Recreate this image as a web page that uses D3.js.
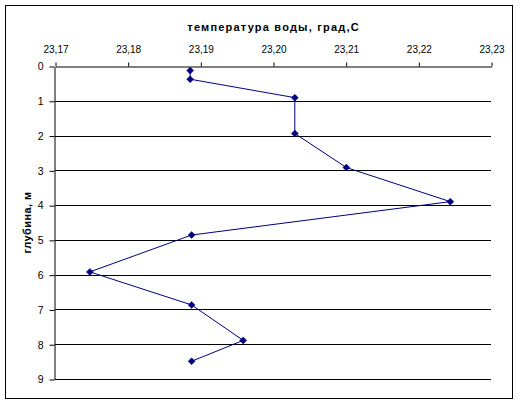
<!DOCTYPE html>
<html>
<head>
<meta charset="utf-8">
<script src="https://cdn.jsdelivr.net/npm/d3@7"></script>
<style>
  body { margin: 0; background: #fff; }
  svg { display: block; }
  text { font-family: "Liberation Sans", Arial, sans-serif; }
</style>
</head>
<body>
<svg id="chart" width="521" height="405"></svg>
<script>
// Data
const temperature = [23.1886, 23.1886, 23.2030, 23.2030, 23.2101, 23.2244, 23.1888, 23.1748, 23.1888, 23.1959, 23.1888];
const depth = [0.13, 0.38, 0.91, 1.94, 2.92, 3.90, 4.86, 5.92, 6.87, 7.89, 8.49];
const xTicks = [23.17, 23.18, 23.19, 23.20, 23.21, 23.22, 23.23];
const yTicks = [0, 1, 2, 3, 4, 5, 6, 7, 8, 9];
const xTitle = "температура воды, град,С";
const yTitle = "глубина, м";

const svg = d3.select("#chart");
const pLeft = 55, pRight = 491, pTop = 66, pBottom = 379;

const x = d3.scaleLinear().domain([23.17, 23.23]).range([pLeft, pRight]);
const y = d3.scaleLinear().domain([0, 9]).range([pTop, pBottom]);

// Outer border
svg.append("rect")
  .attr("x", 5.5).attr("y", 5.5)
  .attr("width", 507).attr("height", 393)
  .attr("fill", "#fff").attr("stroke", "#000").attr("stroke-width", 1);

// Horizontal gridlines
svg.append("g").selectAll("line").data(yTicks.slice(1)).join("line")
  .attr("x1", pLeft).attr("x2", pRight)
  .attr("y1", d => Math.round(y(d)) + 0.5).attr("y2", d => Math.round(y(d)) + 0.5)
  .attr("stroke", "#000").attr("stroke-width", 1);

const fmt = d => d3.format(".2f")(d).replace(".", ",");

// Top x axis
const xAxis = svg.append("g")
  .attr("transform", `translate(0.5,${pTop + 0.5})`)
  .call(d3.axisTop(x).tickValues(xTicks).tickFormat(fmt).tickSize(4).tickSizeOuter(0).tickPadding(10));
xAxis.select(".domain").attr("stroke", "#000");
xAxis.selectAll(".tick line").attr("stroke", "#000");
xAxis.selectAll("text").attr("font-size", 10).attr("fill", "#000")
  .attr("font-family", "'Liberation Sans', Arial, sans-serif");

// Left y axis
const yAxis = svg.append("g")
  .attr("transform", `translate(${pLeft - 0.5},0.5)`)
  .call(d3.axisLeft(y).tickValues(yTicks).tickFormat(d3.format("d")).tickSize(5).tickSizeOuter(0).tickPadding(6));
yAxis.select(".domain").attr("stroke", "#000");
yAxis.selectAll(".tick line").attr("stroke", "#000");
yAxis.selectAll("text").attr("font-size", 10.5).attr("fill", "#000")
  .attr("font-family", "'Liberation Sans', Arial, sans-serif");

// Titles
svg.append("text")
  .attr("x", (pLeft + pRight) / 2 + 0.6).attr("y", 31)
  .attr("text-anchor", "middle")
  .attr("font-size", 11).attr("font-weight", "bold")
  .attr("letter-spacing", 1.2)
  .text(xTitle);

svg.append("text")
  .attr("transform", `translate(31,${(pTop + pBottom) / 2}) rotate(-90)`)
  .attr("text-anchor", "middle")
  .attr("font-size", 11).attr("font-weight", "bold")
  .attr("letter-spacing", 0.4)
  .text(yTitle);

// Series
const pts = temperature.map((t, i) => ({ t, d: depth[i] }));
const line = d3.line().x(p => x(p.t)).y(p => y(p.d));
svg.append("path").datum(pts)
  .attr("d", line)
  .attr("fill", "none").attr("stroke", "#000080").attr("stroke-width", 1);

const r = 3.5;
svg.append("g").selectAll("path").data(pts).join("path")
  .attr("d", p => {
    const cx = x(p.t), cy = y(p.d);
    return `M${cx},${cy - r}L${cx + r},${cy}L${cx},${cy + r}L${cx - r},${cy}Z`;
  })
  .attr("fill", "#000080").attr("stroke", "#000080").attr("stroke-width", 0.5);
</script>
</body>
</html>
